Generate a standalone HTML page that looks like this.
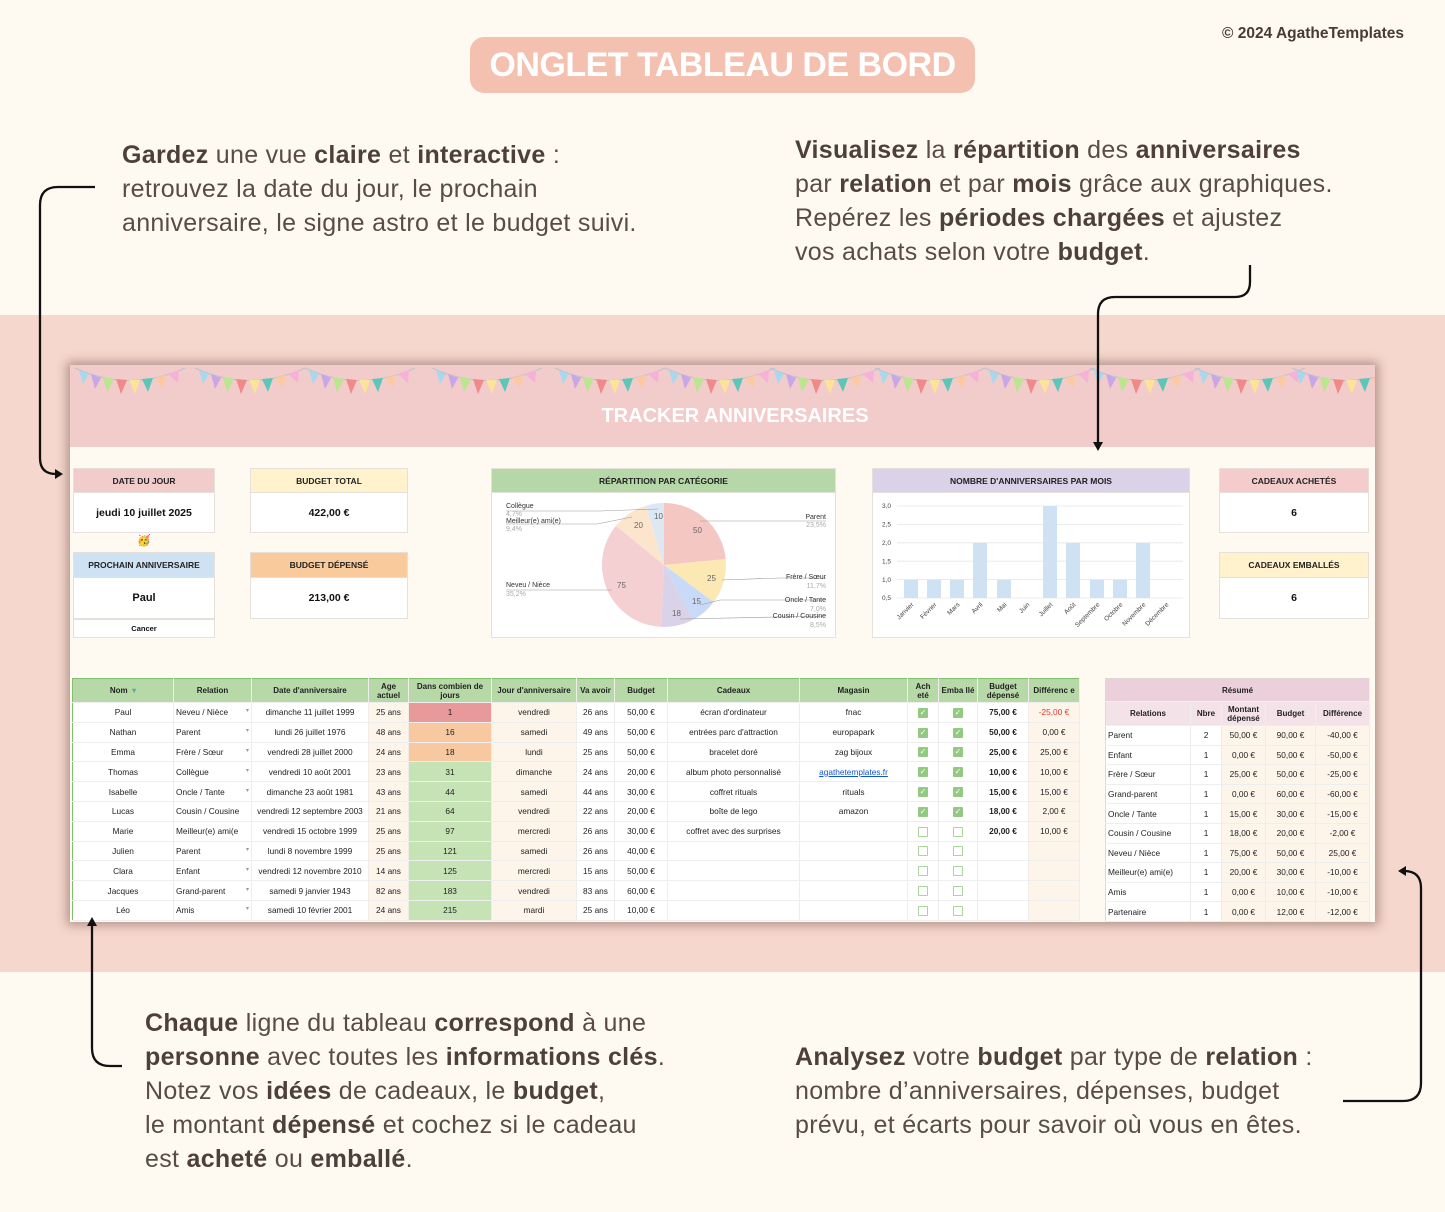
<!DOCTYPE html>
<html><head><meta charset="utf-8"><style>
*{margin:0;padding:0;box-sizing:border-box}
body{width:1445px;height:1212px;background:#fefaf1;font-family:"Liberation Sans",sans-serif;position:relative;overflow:hidden;color:#5a4b47}
.abs{position:absolute}
.txt{font-size:25px;line-height:34px;letter-spacing:0.3px;white-space:nowrap}
.txt b{color:#4e3f3b}
.band{left:0;top:315px;width:1445px;height:657px;background:#f6d7cd}
.panel{left:70px;top:365px;width:1305px;height:557px;background:#fefaf1;box-shadow:0 0 10px 3px rgba(90,60,50,.45)}
.hdr{left:70px;top:365px;width:1305px;height:82px;background:#f2cbcb}
.card .h{position:absolute;left:0;width:100%;font-size:8.5px;font-weight:bold;color:#222;text-align:center;border:1px solid #e5e0da}
.card .b{position:absolute;left:0;width:100%;background:#fff;font-weight:bold;text-align:center;color:#111;border:1px solid #e5e0da}
table{border-collapse:collapse;table-layout:fixed;font-size:8.3px;color:#222}
td,th{height:19.8px;border-bottom:1px solid #eee;border-right:1px solid #f0ece8;text-align:center;white-space:nowrap;overflow:hidden;padding:0 2px}
th{background:#b7d9a8;font-weight:bold;height:24px;line-height:9px;font-size:8px;white-space:normal}
.l{text-align:left}
.c{background:#fdf4ea}
.g{background:#c6e3b6}
.ck{display:inline-block;width:10px;height:10px;background:#93c982;border-radius:1px;color:#fff;font-size:8px;line-height:10px;vertical-align:middle}
.uk{display:inline-block;width:10px;height:10px;border:1.3px solid #a9d49a;border-radius:1px;vertical-align:middle}
.dd{color:#999;float:right;font-size:6px}
.sum td{height:19.6px;padding:0 2px}
</style></head><body>
<div class="abs" style="left:1222px;top:25px;font-size:15.5px;font-weight:bold;color:#4a3a35">© 2024 AgatheTemplates</div>
<div class="abs" style="left:470px;top:37px;width:505px;height:56px;background:#f4c1b1;border-radius:14px;color:#fff;font-weight:bold;font-size:34px;text-align:center;line-height:56px;letter-spacing:-0.5px">ONGLET TABLEAU DE BORD</div>

<div class="abs txt" style="left:122px;top:138px"><b>Gardez</b> une vue <b>claire</b> et <b>interactive</b> :<br>retrouvez la date du jour, le prochain<br>anniversaire, le signe astro et le budget suivi.</div>
<div class="abs txt" style="left:795px;top:133px"><b>Visualisez</b> la <b>répartition</b> des <b>anniversaires</b><br>par <b>relation</b> et par <b>mois</b> grâce aux graphiques.<br>Repérez les <b>périodes chargées</b> et ajustez<br>vos achats selon votre <b>budget</b>.</div>
<div class="abs txt" style="left:145px;top:1006px"><b>Chaque</b> ligne du tableau <b>correspond</b> à une<br><b>personne</b> avec toutes les <b>informations clés</b>.<br>Notez vos <b>idées</b> de cadeaux, le <b>budget</b>,<br>le montant <b>dépensé</b> et cochez si le cadeau<br>est <b>acheté</b> ou <b>emballé</b>.</div>
<div class="abs txt" style="left:795px;top:1040px"><b>Analysez</b> votre <b>budget</b> par type de <b>relation</b> :<br>nombre d’anniversaires, dépenses, budget<br>prévu, et écarts pour savoir où vous en êtes.</div>

<div class="abs band"></div>
<div class="abs panel"></div>
<div class="abs hdr"></div>
<svg class="abs" style="left:70px;top:365px" width="1305" height="40">
<defs><g id="bn">
<path d="M0 3 Q55 28 110 3" stroke="#b9c4cc" fill="none" stroke-width="1"/>
<polygon points="4,5 14,9 8,19" fill="#a8d8f0"/><polygon points="16,9 26,13 20,24" fill="#c9a6e8"/><polygon points="28,12 39,14 32,27" fill="#b9e68f"/><polygon points="41,14 52,15 46,29" fill="#f08a8a"/><polygon points="54,15 65,15 60,29" fill="#fbe39a"/><polygon points="67,14 78,13 73,27" fill="#5cc6b8"/><polygon points="80,13 91,10 88,23" fill="#fcc9a0"/><polygon points="93,9 104,5 103,18" fill="#f6b1d8"/>
</g></defs>
<use href="#bn" x="5"/><use href="#bn" x="125"/><use href="#bn" x="235"/><use href="#bn" x="362"/><use href="#bn" x="485"/><use href="#bn" x="595"/><use href="#bn" x="700"/><use href="#bn" x="805"/><use href="#bn" x="915"/><use href="#bn" x="1020"/><use href="#bn" x="1125"/><use href="#bn" x="1222"/>
</svg>
<div class="abs" style="left:70px;top:405px;width:1330px;text-align:center;color:#fff;font-weight:bold;font-size:20px;padding-right:0px">TRACKER ANNIVERSAIRES</div>

<!-- KPI cards -->
<div class="abs card" style="left:73px;top:468px;width:142px;height:170px">
<div class="h" style="top:0;height:25px;line-height:24px;background:#f2cbcb">DATE DU JOUR</div>
<div class="b" style="top:24px;height:41px;line-height:40px;font-size:10.5px">jeudi 10 juillet 2025</div>
<div class="h" style="top:84px;height:26px;line-height:25px;background:#cfe2f3">PROCHAIN ANNIVERSAIRE</div>
<div class="b" style="top:109px;height:42px;line-height:41px;font-size:11px">Paul</div>
<div class="b" style="top:151px;height:19px;line-height:18px;font-size:7.5px">Cancer</div>
</div>
<div class="abs" style="left:137px;top:534px;font-size:11px">🥳</div>
<div class="abs card" style="left:250px;top:468px;width:158px;height:151px">
<div class="h" style="top:0;height:25px;line-height:24px;background:#fff2cc">BUDGET TOTAL</div>
<div class="b" style="top:24px;height:41px;line-height:40px;font-size:10.5px">422,00 €</div>
<div class="h" style="top:84px;height:26px;line-height:25px;background:#f9cb9c">BUDGET DÉPENSÉ</div>
<div class="b" style="top:109px;height:42px;line-height:41px;font-size:10.5px">213,00 €</div>
</div>
<div class="abs card" style="left:1219px;top:468px;width:150px;height:151px">
<div class="h" style="top:0;height:25px;line-height:24px;background:#f4cccc">CADEAUX ACHETÉS</div>
<div class="b" style="top:24px;height:41px;line-height:40px;font-size:10.5px">6</div>
<div class="h" style="top:84px;height:26px;line-height:25px;background:#fff2cc">CADEAUX EMBALLÉS</div>
<div class="b" style="top:109px;height:42px;line-height:41px;font-size:10.5px">6</div>
</div>

<!-- Pie -->
<div class="abs card" style="left:491px;top:468px;width:345px;height:170px"><div class="b" style="top:0;height:170px"></div><div class="h" style="top:0;height:25px;line-height:24px;background:#b6d7a8">RÉPARTITION PAR CATÉGORIE</div></div>
<svg class="abs" style="left:491px;top:468px" width="345" height="170" font-family="Liberation Sans" font-size="7">
<g transform="translate(-491,-468)">
<path d="M664 565 L664 503 A62 62 0 0 1 725.7 559.1Z" fill="#f4c7c3"/>
<path d="M664 565 L725.7 559.1 A62 62 0 0 1 713.6 602.1Z" fill="#fce8b2"/>
<path d="M664 565 L713.6 602.1 A62 62 0 0 1 693 619.8Z" fill="#c9daf8"/>
<path d="M664 565 L693 619.8 A62 62 0 0 1 661.3 626.9Z" fill="#d9d2e9"/>
<path d="M664 565 L661.3 626.9 A62 62 0 0 1 616 525.7Z" fill="#f4d0d3"/>
<path d="M664 565 L616 525.7 A62 62 0 0 1 646 505.7Z" fill="#fce5cd"/>
<path d="M664 565 L646 505.7 A62 62 0 0 1 664 503Z" fill="#dde8f5"/>
<g fill="#666" font-size="8"><text x="693" y="533">50</text><text x="707" y="581">25</text><text x="692" y="604">15</text><text x="672" y="616">18</text><text x="617" y="588">75</text><text x="634" y="528">20</text><text x="654" y="519">10</text></g>
<g stroke="#999" stroke-width=".6" fill="none"><path d="M506 511 L600 511 L658 509"/><path d="M506 524 L597 524 L632 517"/><path d="M506 590 L612 590"/><path d="M700 521 L826 521"/><path d="M722 580 L780 578 L826 578"/><path d="M700 605 L720 600 L826 600"/><path d="M680 619 L826 616"/></g>
<g fill="#333"><text x="506" y="508">Collègue</text><text x="506" y="523">Meilleur(e) ami(e)</text><text x="506" y="587">Neveu / Nièce</text><text x="826" y="519" text-anchor="end">Parent</text><text x="826" y="579" text-anchor="end">Frère / Sœur</text><text x="826" y="602" text-anchor="end">Oncle / Tante</text><text x="826" y="618" text-anchor="end">Cousin / Cousine</text></g>
<g fill="#aaa"><text x="506" y="516">4,7%</text><text x="506" y="531">9,4%</text><text x="506" y="596">35,2%</text><text x="826" y="527" text-anchor="end">23,5%</text><text x="826" y="588" text-anchor="end">11,7%</text><text x="826" y="611" text-anchor="end">7,0%</text><text x="826" y="627" text-anchor="end">8,5%</text></g>
</g></svg>

<!-- Bar chart -->
<div class="abs card" style="left:872px;top:468px;width:318px;height:170px"><div class="b" style="top:0;height:170px"></div><div class="h" style="top:0;height:25px;line-height:24px;background:#d9d2e9">NOMBRE D'ANNIVERSAIRES PAR MOIS</div></div>
<svg class="abs" style="left:872px;top:468px" width="318" height="170" font-family="Liberation Sans" font-size="6.5">
<g transform="translate(-872,-468)">
<g stroke="#e6e6e6" stroke-width=".8"><line x1="897" x2="1183" y1="506" y2="506"/><line x1="897" x2="1183" y1="524.4" y2="524.4"/><line x1="897" x2="1183" y1="542.8" y2="542.8"/><line x1="897" x2="1183" y1="561.2" y2="561.2"/><line x1="897" x2="1183" y1="579.6" y2="579.6"/><line x1="897" x2="1183" y1="598" y2="598"/></g>
<g fill="#444"><text x="882" y="508">3,0</text><text x="882" y="526.5">2,5</text><text x="882" y="545">2,0</text><text x="882" y="563.5">1,5</text><text x="882" y="582">1,0</text><text x="882" y="600">0,5</text></g>
<g fill="#cfe2f3"><rect x="904" y="579.6" width="14" height="18.4"/><rect x="927" y="579.6" width="14" height="18.4"/><rect x="950" y="579.6" width="14" height="18.4"/><rect x="973" y="542.8" width="14" height="55.2"/><rect x="997" y="579.6" width="14" height="18.4"/><rect x="1043" y="506" width="14" height="92"/><rect x="1066" y="542.8" width="14" height="55.2"/><rect x="1090" y="579.6" width="14" height="18.4"/><rect x="1113" y="579.6" width="14" height="18.4"/><rect x="1136" y="542.8" width="14" height="55.2"/></g>
<g fill="#444" text-anchor="end">
<text transform="translate(914,605) rotate(-45)">Janvier</text><text transform="translate(937,605) rotate(-45)">Février</text><text transform="translate(960,605) rotate(-45)">Mars</text><text transform="translate(983,605) rotate(-45)">Avril</text><text transform="translate(1007,605) rotate(-45)">Mai</text><text transform="translate(1030,605) rotate(-45)">Juin</text><text transform="translate(1053,605) rotate(-45)">Juillet</text><text transform="translate(1076,605) rotate(-45)">Août</text><text transform="translate(1100,605) rotate(-45)">Septembre</text><text transform="translate(1123,605) rotate(-45)">Octobre</text><text transform="translate(1146,605) rotate(-45)">Novembre</text><text transform="translate(1169,605) rotate(-45)">Décembre</text></g>
</g></svg>

<!-- Main table -->
<table class="abs" style="left:72px;top:678px;width:1007px;background:#fff;border:1.5px solid #7fbf6e">
<colgroup><col style="width:101px"><col style="width:78px"><col style="width:117px"><col style="width:40px"><col style="width:83px"><col style="width:85px"><col style="width:38px"><col style="width:53px"><col style="width:132px"><col style="width:108px"><col style="width:31px"><col style="width:39px"><col style="width:51px"><col style="width:51px"></colgroup>
<tr><th>Nom &nbsp;<span style="color:#6a9">▾</span></th><th>Relation</th><th>Date d'anniversaire</th><th>Age actuel</th><th>Dans combien de jours</th><th>Jour d'anniversaire</th><th>Va avoir</th><th>Budget</th><th>Cadeaux</th><th>Magasin</th><th>Ach eté</th><th>Emba llé</th><th>Budget dépensé</th><th>Différenc e</th></tr>
<tr><td>Paul</td><td class="l">Neveu / Nièce<span class="dd">▾</span></td><td>dimanche 11 juillet 1999</td><td class="c">25 ans</td><td style="background:#e89a9b">1</td><td class="c">vendredi</td><td>26 ans</td><td>50,00 €</td><td>écran d'ordinateur</td><td>fnac</td><td><span class="ck">✓</span></td><td><span class="ck">✓</span></td><td><b>75,00 €</b></td><td class="c" style="color:#e33">-25,00 €</td></tr>
<tr><td>Nathan</td><td class="l">Parent<span class="dd">▾</span></td><td>lundi 26 juillet 1976</td><td class="c">48 ans</td><td style="background:#f8c9a0">16</td><td class="c">samedi</td><td>49 ans</td><td>50,00 €</td><td>entrées parc d'attraction</td><td>europapark</td><td><span class="ck">✓</span></td><td><span class="ck">✓</span></td><td><b>50,00 €</b></td><td class="c">0,00 €</td></tr>
<tr><td>Emma</td><td class="l">Frère / Sœur<span class="dd">▾</span></td><td>vendredi 28 juillet 2000</td><td class="c">24 ans</td><td style="background:#f8c9a0">18</td><td class="c">lundi</td><td>25 ans</td><td>50,00 €</td><td>bracelet doré</td><td>zag bijoux</td><td><span class="ck">✓</span></td><td><span class="ck">✓</span></td><td><b>25,00 €</b></td><td class="c">25,00 €</td></tr>
<tr><td>Thomas</td><td class="l">Collègue<span class="dd">▾</span></td><td>vendredi 10 août 2001</td><td class="c">23 ans</td><td class="g">31</td><td class="c">dimanche</td><td>24 ans</td><td>20,00 €</td><td>album photo personnalisé</td><td style="color:#1155cc;text-decoration:underline">agathetemplates.fr</td><td><span class="ck">✓</span></td><td><span class="ck">✓</span></td><td><b>10,00 €</b></td><td class="c">10,00 €</td></tr>
<tr><td>Isabelle</td><td class="l">Oncle / Tante<span class="dd">▾</span></td><td>dimanche 23 août 1981</td><td class="c">43 ans</td><td class="g">44</td><td class="c">samedi</td><td>44 ans</td><td>30,00 €</td><td>coffret rituals</td><td>rituals</td><td><span class="ck">✓</span></td><td><span class="ck">✓</span></td><td><b>15,00 €</b></td><td class="c">15,00 €</td></tr>
<tr><td>Lucas</td><td class="l">Cousin / Cousine</td><td>vendredi 12 septembre 2003</td><td class="c">21 ans</td><td class="g">64</td><td class="c">vendredi</td><td>22 ans</td><td>20,00 €</td><td>boîte de lego</td><td>amazon</td><td><span class="ck">✓</span></td><td><span class="ck">✓</span></td><td><b>18,00 €</b></td><td class="c">2,00 €</td></tr>
<tr><td>Marie</td><td class="l">Meilleur(e) ami(e</td><td>vendredi 15 octobre 1999</td><td class="c">25 ans</td><td class="g">97</td><td class="c">mercredi</td><td>26 ans</td><td>30,00 €</td><td>coffret avec des surprises</td><td></td><td><span class="uk"></span></td><td><span class="uk"></span></td><td><b>20,00 €</b></td><td class="c">10,00 €</td></tr>
<tr><td>Julien</td><td class="l">Parent<span class="dd">▾</span></td><td>lundi 8 novembre 1999</td><td class="c">25 ans</td><td class="g">121</td><td class="c">samedi</td><td>26 ans</td><td>40,00 €</td><td></td><td></td><td><span class="uk"></span></td><td><span class="uk"></span></td><td></td><td class="c"></td></tr>
<tr><td>Clara</td><td class="l">Enfant<span class="dd">▾</span></td><td>vendredi 12 novembre 2010</td><td class="c">14 ans</td><td class="g">125</td><td class="c">mercredi</td><td>15 ans</td><td>50,00 €</td><td></td><td></td><td><span class="uk"></span></td><td><span class="uk"></span></td><td></td><td class="c"></td></tr>
<tr><td>Jacques</td><td class="l">Grand-parent<span class="dd">▾</span></td><td>samedi 9 janvier 1943</td><td class="c">82 ans</td><td class="g">183</td><td class="c">vendredi</td><td>83 ans</td><td>60,00 €</td><td></td><td></td><td><span class="uk"></span></td><td><span class="uk"></span></td><td></td><td class="c"></td></tr>
<tr><td>Léo</td><td class="l">Amis<span class="dd">▾</span></td><td>samedi 10 février 2001</td><td class="c">24 ans</td><td class="g">215</td><td class="c">mardi</td><td>25 ans</td><td>10,00 €</td><td></td><td></td><td><span class="uk"></span></td><td><span class="uk"></span></td><td></td><td class="c"></td></tr>
</table>

<!-- Summary table -->
<table class="abs sum" style="left:1105px;top:678px;width:264px;background:#fff;border:1px solid #e0d6d6">
<colgroup><col style="width:85px"><col style="width:31px"><col style="width:44px"><col style="width:50px"><col style="width:54px"></colgroup>
<tr><th colspan="5" style="background:#ebcfda;height:23px">Résumé</th></tr>
<tr><th style="background:#f4e2e9;height:22px">Relations</th><th style="background:#f4e2e9">Nbre</th><th style="background:#f4e2e9">Montant dépensé</th><th style="background:#f4e2e9">Budget</th><th style="background:#f4e2e9">Différence</th></tr>
<tr><td class="l">Parent</td><td>2</td><td class="c">50,00 €</td><td class="c">90,00 €</td><td class="c">-40,00 €</td></tr>
<tr><td class="l">Enfant</td><td>1</td><td class="c">0,00 €</td><td class="c">50,00 €</td><td class="c">-50,00 €</td></tr>
<tr><td class="l">Frère / Sœur</td><td>1</td><td class="c">25,00 €</td><td class="c">50,00 €</td><td class="c">-25,00 €</td></tr>
<tr><td class="l">Grand-parent</td><td>1</td><td class="c">0,00 €</td><td class="c">60,00 €</td><td class="c">-60,00 €</td></tr>
<tr><td class="l">Oncle / Tante</td><td>1</td><td class="c">15,00 €</td><td class="c">30,00 €</td><td class="c">-15,00 €</td></tr>
<tr><td class="l">Cousin / Cousine</td><td>1</td><td class="c">18,00 €</td><td class="c">20,00 €</td><td class="c">-2,00 €</td></tr>
<tr><td class="l">Neveu / Nièce</td><td>1</td><td class="c">75,00 €</td><td class="c">50,00 €</td><td class="c">25,00 €</td></tr>
<tr><td class="l">Meilleur(e) ami(e)</td><td>1</td><td class="c">20,00 €</td><td class="c">30,00 €</td><td class="c">-10,00 €</td></tr>
<tr><td class="l">Amis</td><td>1</td><td class="c">0,00 €</td><td class="c">10,00 €</td><td class="c">-10,00 €</td></tr>
<tr><td class="l">Partenaire</td><td>1</td><td class="c">0,00 €</td><td class="c">12,00 €</td><td class="c">-12,00 €</td></tr>
</table>

<!-- arrows -->
<svg class="abs" style="left:0;top:0" width="1445" height="1212">
<g stroke="#111" stroke-width="2.3" fill="none">
<path d="M95 187 L58 187 Q40 187 40 205 L40 458 Q40 474 56 474 L60 474"/>
<path d="M1250 265 L1250 282 Q1250 297 1235 297 L1115 297 Q1098 297 1098 314 L1098 444"/>
<path d="M92 925 L92 1048 Q92 1066 110 1066 L122 1066"/>
<path d="M1343 1101 L1403 1101 Q1421 1101 1421 1083 L1421 888 Q1421 871 1404 871"/>
</g>
<g fill="#111">
<polygon points="63,474 55,469 55,479"/>
<polygon points="1098,451 1093,442 1103,442"/>
<polygon points="92,917 87,926 97,926"/>
<polygon points="1398,871 1406,866 1406,876"/>
</g>
</svg>
</body></html>
